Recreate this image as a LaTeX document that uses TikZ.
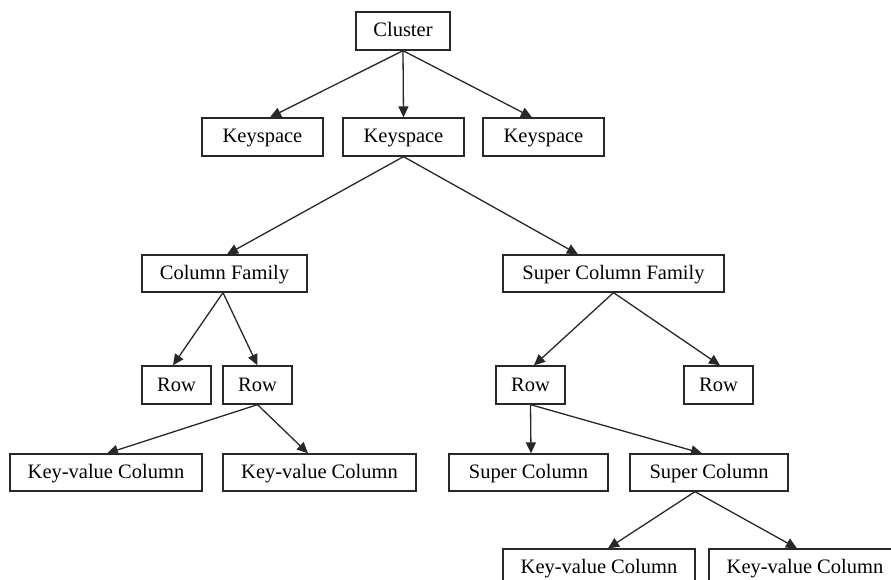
\documentclass[tikz,border=0pt]{standalone}
\usepackage{fontspec}
\setmainfont{Liberation Serif}
\usetikzlibrary{arrows.meta,calc}
\definecolor{linec}{RGB}{40,40,40}
\tikzset{
  box/.style={draw=linec, line width=1.3pt, rectangle, inner sep=0pt, font=\fontsize{20.5}{23}\selectfont, text=black, fill=white, text height=13pt, text depth=1pt},
  conn/.style={draw=linec, line width=1.3pt, -{Triangle[length=11pt,width=10pt]}}
}
\begin{document}
\begin{tikzpicture}[x=1pt,y=-1pt]
\useasboundingbox[fill=white] (0,0) rectangle (891,580);
\node[box, minimum width=94pt, minimum height=38pt] (cluster) at (403,31) {Cluster};
\node[box, minimum width=121pt, minimum height=38pt] (k1) at (262.5,137) {Keyspace};
\node[box, minimum width=121pt, minimum height=38pt] (k2) at (403.5,137) {Keyspace};
\node[box, minimum width=121pt, minimum height=38pt] (k3) at (543.5,137) {Keyspace};
\node[box, minimum width=165pt, minimum height=37pt] (cf) at (224.5,273.5) {Column Family};
\node[box, minimum width=221pt, minimum height=37pt] (scf) at (613.5,273.5) {Super Column Family};
\node[box, minimum width=69pt, minimum height=38pt] (r1) at (176.5,385) {Row};
\node[box, minimum width=69pt, minimum height=38pt] (r2) at (257.5,385) {Row};
\node[box, minimum width=69pt, minimum height=38pt] (r3) at (530.5,385) {Row};
\node[box, minimum width=69pt, minimum height=38pt] (r4) at (718.5,385) {Row};
\node[box, minimum width=192pt, minimum height=37pt] (kv1) at (106,472.5) {Key-value Column};
\node[box, minimum width=193pt, minimum height=37pt] (kv2) at (319.5,472.5) {Key-value Column};
\node[box, minimum width=159pt, minimum height=37pt] (sc1) at (528.5,472.5) {Super Column};
\node[box, minimum width=158pt, minimum height=37pt] (sc2) at (709,472.5) {Super Column};
\node[box, minimum width=192pt, minimum height=37pt] (kv3) at (599,567.5) {Key-value Column};
\node[box, minimum width=192pt, minimum height=37pt] (kv4) at (805,567.5) {Key-value Column};

\draw[conn] (cluster.south) -- ($(k1.north)+(7.5,0)$);
\draw[conn] (cluster.south) -- (k2.north);
\draw[conn] (cluster.south) -- ($(k3.north)+(-11.5,0)$);
\draw[conn] (k2.south) -- ($(cf.north)+(2.5,0)$);
\draw[conn] (k2.south) -- ($(scf.north)+(-35.5,0)$);
\draw[conn] ($(cf.south)+(-1.5,0)$) -- ($(r1.north)+(-3.5,0)$);
\draw[conn] ($(cf.south)+(-1.5,0)$) -- (r2.north);
\draw[conn] (scf.south) -- ($(r3.north)+(3.5,0)$);
\draw[conn] (scf.south) -- ($(r4.north)+(1.5,0)$);
\draw[conn] (r2.south) -- ($(kv1.north)+(1,0)$);
\draw[conn] (r2.south) -- ($(kv2.north)+(-11.5,0)$);
\draw[conn] (r3.south) -- ($(sc1.north)+(2.5,0)$);
\draw[conn] (r3.south) -- ($(sc2.north)+(-7,0)$);
\draw[conn] ($(sc2.south)+(-14,0)$) -- ($(kv3.north)+(9,0)$);
\draw[conn] ($(sc2.south)+(-14,0)$) -- ($(kv4.north)+(-8,0)$);
\end{tikzpicture}
\end{document}
